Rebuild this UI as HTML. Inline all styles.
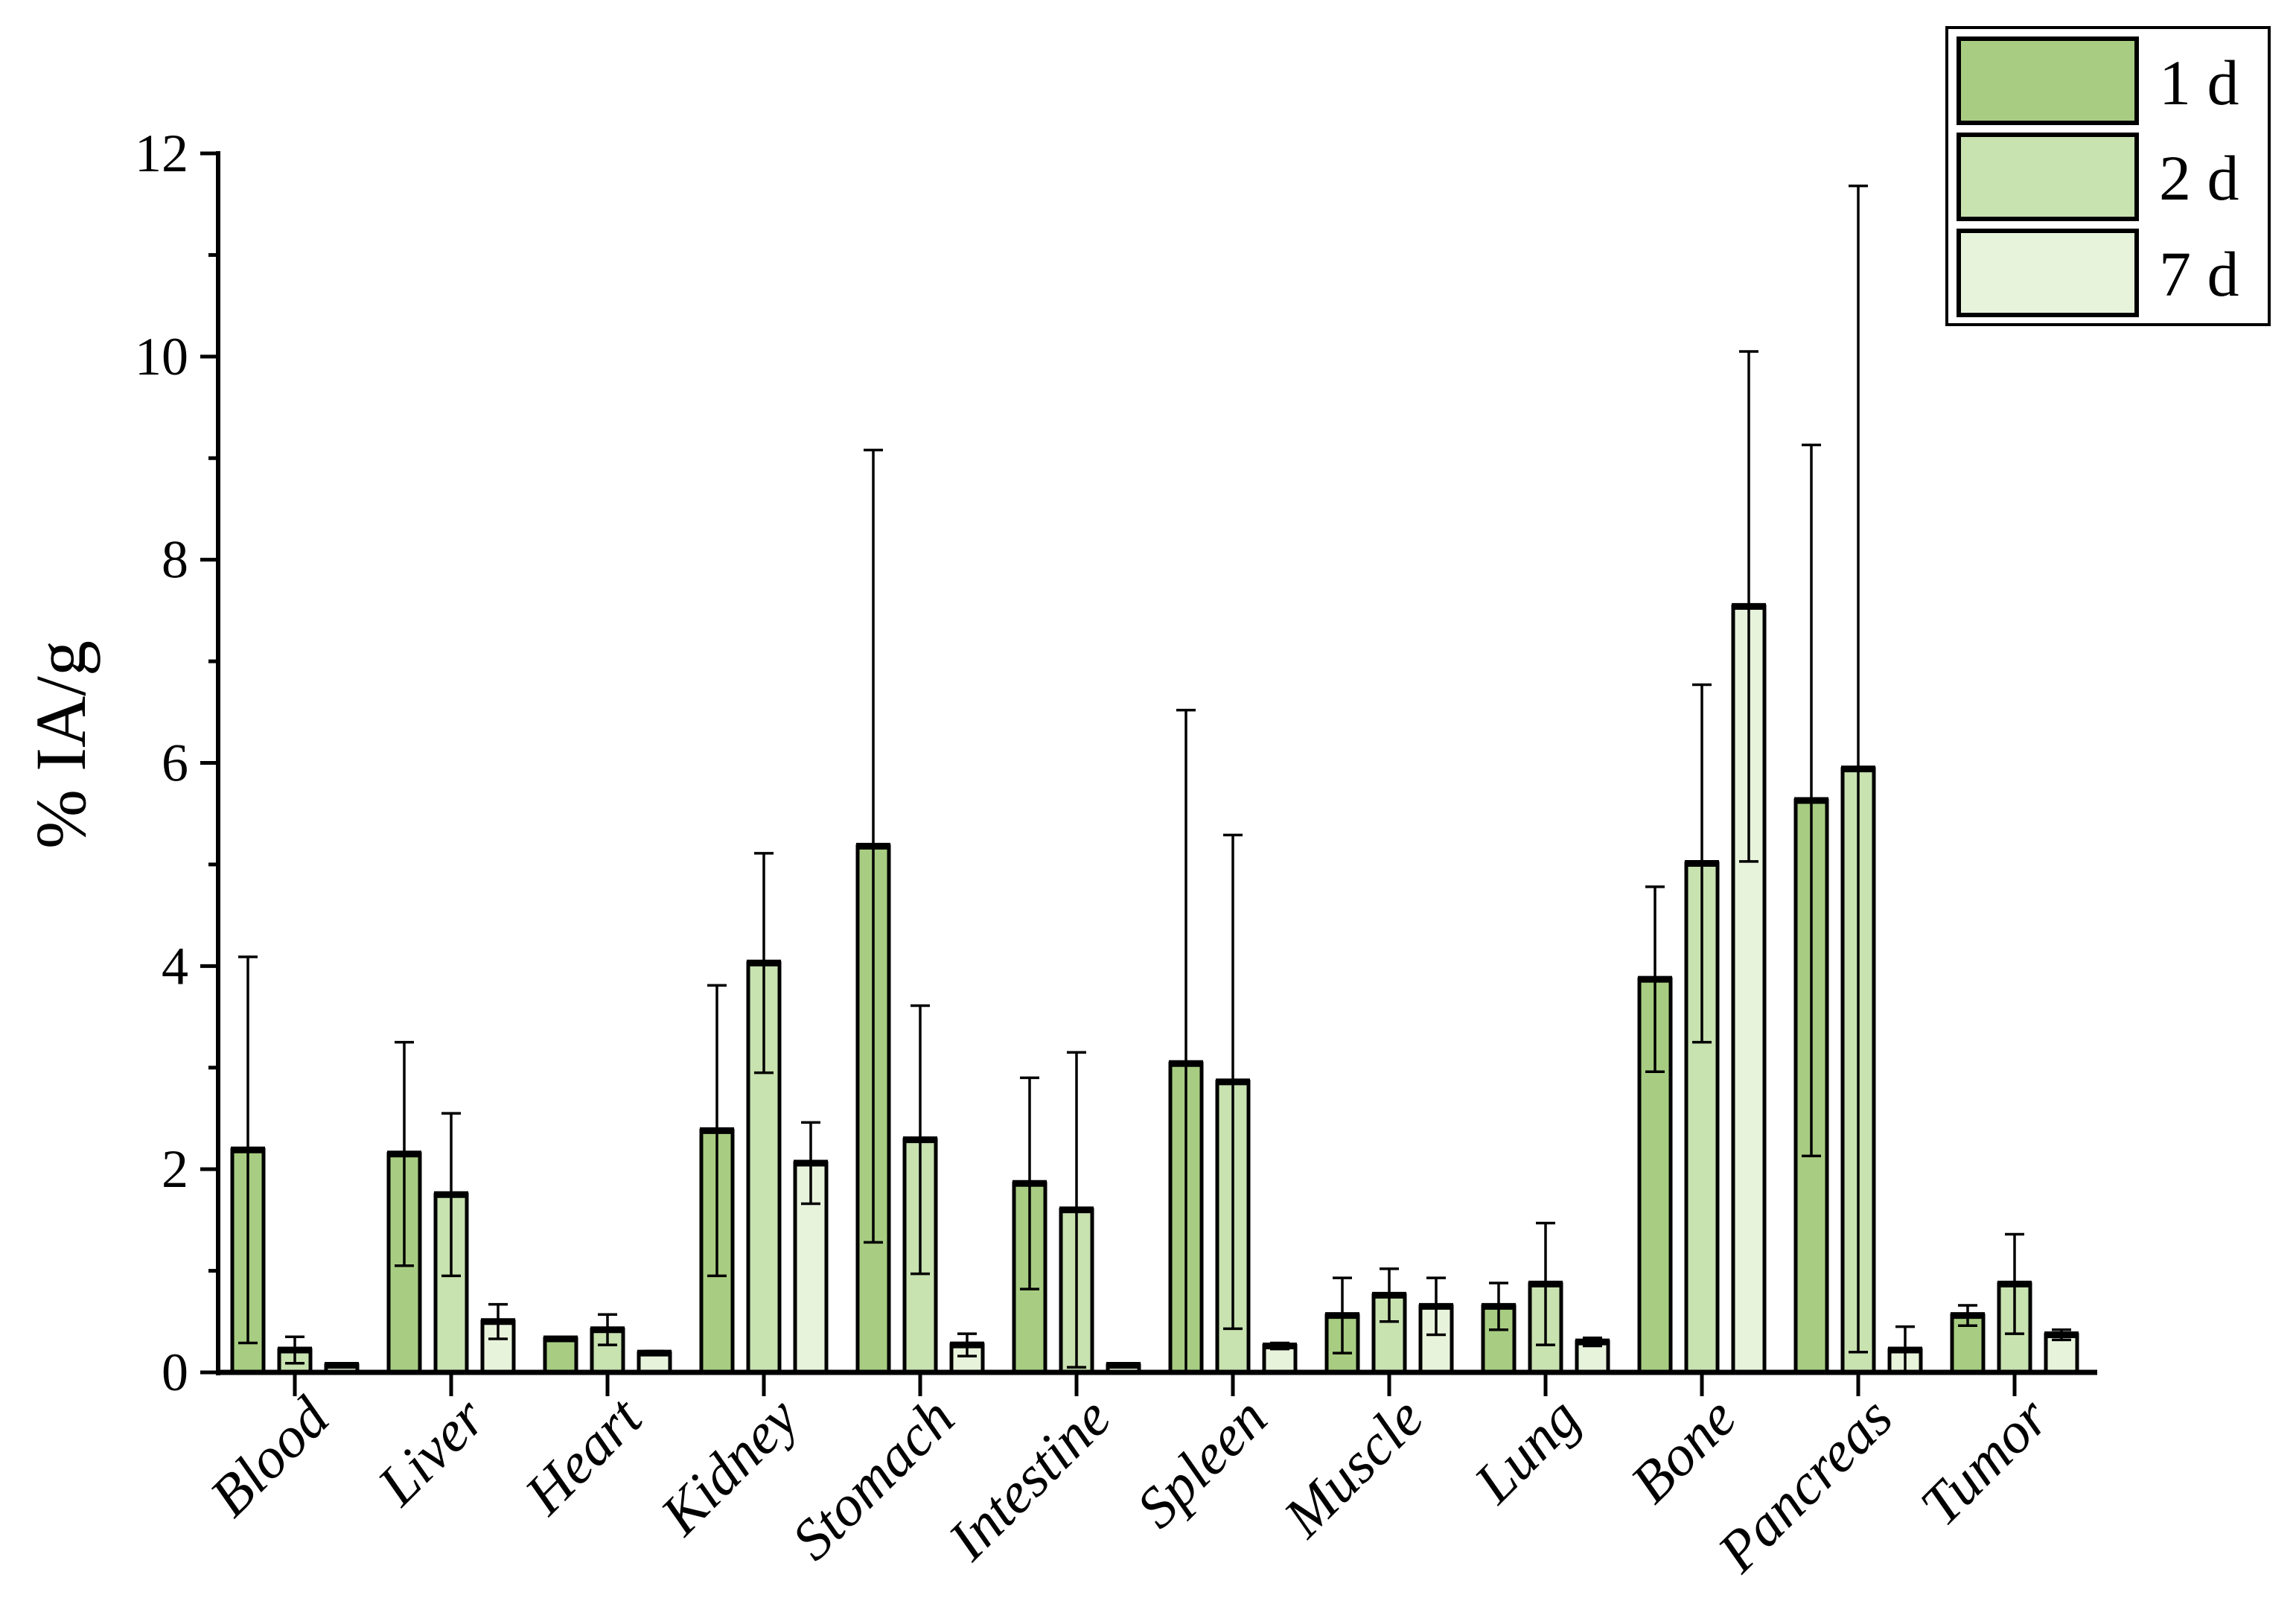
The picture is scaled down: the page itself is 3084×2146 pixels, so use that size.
<!DOCTYPE html>
<html><head><meta charset="utf-8"><style>
html,body{margin:0;padding:0;background:#fff;}
svg{display:block;font-family:"Liberation Serif",serif;}
</style></head><body>
<svg id="chart" width="3084" height="2146" viewBox="0 0 3084 2146" xmlns="http://www.w3.org/2000/svg">
<g id="plot"></g>
<text x="0" y="0" transform="translate(114,1000) rotate(-90)" text-anchor="middle" font-size="96">% IA/g</text>
<g>
<rect x="2615" y="37" width="433" height="399" fill="#fff" stroke="#000" stroke-width="4"/>
<g><rect x="2631" y="52" width="239" height="113" fill="#a8cd82" stroke="#000" stroke-width="6"/><text x="2900" y="140" font-size="86">1 d</text></g>
<g><rect x="2631" y="181" width="239" height="113" fill="#c8e2b0" stroke="#000" stroke-width="6"/><text x="2900" y="268" font-size="86">2 d</text></g>
<g><rect x="2631" y="310" width="239" height="113" fill="#e8f3dc" stroke="#000" stroke-width="6"/><text x="2900" y="397" font-size="86">7 d</text></g>
</g>
</svg>
<script>
const categories = ["Blood","Liver","Heart","Kidney","Stomach","Intestine","Spleen","Muscle","Lung","Bone","Pancreas","Tumor"];
const mean1d = [2.19,2.15,0.33,2.38,5.18,1.86,3.04,0.56,0.65,3.87,5.63,0.56];
const sd1d = [1.9,1.1,0.02,1.43,3.9,1.04,3.48,0.37,0.23,0.91,3.5,0.1];
const mean2d = [0.22,1.75,0.42,4.03,2.29,1.6,2.86,0.76,0.87,5.01,5.94,0.87];
const sd2d = [0.13,0.8,0.15,1.08,1.32,1.55,2.43,0.26,0.6,1.76,5.74,0.49];
const mean7d = [0.07,0.5,0.19,2.06,0.27,0.07,0.26,0.65,0.3,7.54,0.22,0.37];
const sd7d = [0.01,0.17,0.02,0.4,0.11,0.01,0.03,0.28,0.04,2.51,0.23,0.05];
const yTicks = [0,2,4,6,8,10,12];
const seriesNames = ["1d","2d","7d"];

const NS="http://www.w3.org/2000/svg";
const X0=293, Y0=1843, YTOP=206, XEND=2817, C0=396, STEP=210;
const yMax=12;
function yScale(v){return Y0-(v/yMax)*(Y0-YTOP);}
function xScale(i){return C0+i*STEP;}
const plot=document.getElementById('plot');
function mk(tag,attrs){const e=document.createElementNS(NS,tag);for(const k in attrs)e.setAttribute(k,attrs[k]);plot.appendChild(e);return e;}

const series=[[mean1d,sd1d,"#a8cd82"],[mean2d,sd2d,"#c8e2b0"],[mean7d,sd7d,"#e8f3dc"]];
const offs=[-63,0,63], BW=42;
categories.forEach((c,i)=>{
  series.forEach((s,j)=>{
    const cx=xScale(i)+offs[j], v=s[0][i], sd=s[1][i];
    const yt=yScale(v);
    const r=mk('rect',{x:cx-BW/2,y:yt,width:BW,height:Y0-yt,fill:s[2],stroke:'#000','stroke-width':5});
    
    
    mk('line',{x1:cx-BW/2-2,x2:cx+BW/2+2,y1:yt,y2:yt,stroke:'#000','stroke-width':9});
    const yu=yScale(v+sd), yl=yScale(Math.max(0,v-sd));
    const eb=mk('path',{d:`M${cx},${yl}V${yu}M${cx-13},${yu}H${cx+13}M${cx-13},${yl}H${cx+13}`,stroke:'#000','stroke-width':3.5,fill:'none'});
    
    
  });
  const t=mk('line',{x1:xScale(i),x2:xScale(i),y1:Y0,y2:Y0+32,stroke:'#000','stroke-width':5});
  
  
  const lx=xScale(i)+50, ly=Y0+66;
  const lab=mk('text',{x:lx,y:ly,transform:`rotate(-45 ${lx} ${ly})`,'text-anchor':'end','font-size':78,'font-style':'italic'});
  lab.textContent=c;
  
  
});
yTicks.forEach(v=>{
  const y=yScale(v);
  const t=mk('line',{x1:X0-24,x2:X0,y1:y,y2:y,stroke:'#000','stroke-width':5});
  
  
  const l=mk('text',{x:X0-40,y:y+24,'text-anchor':'end','font-size':72});
  l.textContent=String(v);
  
  
  if(v<yMax){const ym=yScale(v+1);const m=mk('line',{x1:X0-13,x2:X0,y1:ym,y2:ym,stroke:'#000','stroke-width':5});
  
  }
});
const ya=mk('line',{x1:X0,x2:X0,y1:YTOP-3,y2:Y0+4,stroke:'#000','stroke-width':6});


const xa=mk('line',{x1:X0-3,x2:XEND,y1:Y0,y2:Y0,stroke:'#000','stroke-width':7});


</script>
</body></html>
